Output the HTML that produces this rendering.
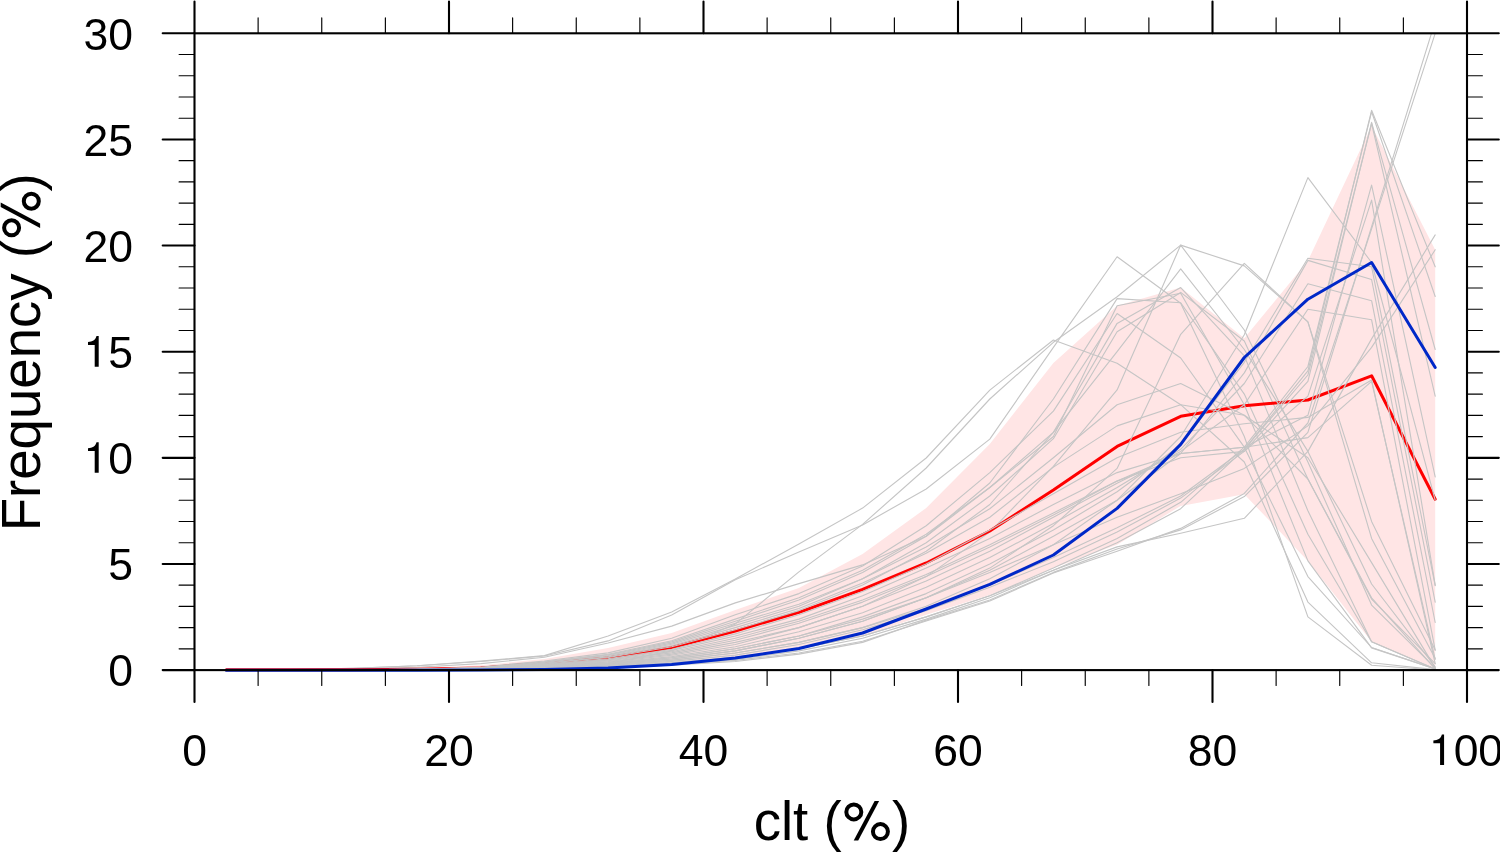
<!DOCTYPE html><html><head><meta charset="utf-8"><style>html,body{margin:0;padding:0;background:#fff;overflow:hidden}svg{display:block}text{font-family:"Liberation Sans",sans-serif;fill:#000}</style></head><body>
<svg width="1500" height="852" viewBox="0 0 1500 852">
<rect width="1500" height="852" fill="#fff"/>
<defs><clipPath id="c"><rect x="194.5" y="33.3" width="1272.5" height="640.8"/></clipPath></defs>
<g clip-path="url(#c)" fill="none" stroke-linejoin="round" stroke-linecap="round">
<polygon points="226.3,670.0 289.9,670.0 353.6,669.6 417.2,668.3 480.8,665.3 544.4,659.0 608.1,647.9 671.7,633.1 735.3,609.9 798.9,588.1 862.6,553.9 926.2,508.1 989.8,444.0 1053.4,362.9 1117.1,305.8 1180.7,287.6 1244.3,338.3 1307.9,260.8 1371.6,125.8 1435.2,249.8 1435.2,668.5 1371.6,641.8 1307.9,560.9 1244.3,494.3 1180.7,505.9 1117.1,544.8 1053.4,568.1 989.8,595.1 926.2,614.8 862.6,636.0 798.9,648.8 735.3,657.3 671.7,663.6 608.1,667.9 544.4,669.4 480.8,670.0 417.2,670.0 353.6,670.0 289.9,670.0 226.3,670.0" fill="#ffe5e5" stroke="none"/>
<g stroke="#c5c5c5" stroke-width="1.12">
<path d="M226.3,669.9 L289.9,669.6 L353.6,668.3 L417.2,665.8 L480.8,661.1 L544.4,655.6 L608.1,636.0 L671.7,612.1 L735.3,579.0 L798.9,543.9 L862.6,508.1 L926.2,458.0 L989.8,390.1 L1053.4,340.0 L1117.1,363.3 L1180.7,404.7 L1244.3,462.0 L1307.9,602.1 L1371.6,662.8 L1435.2,669.6"/>
<path d="M226.3,669.9 L289.9,669.6 L353.6,668.3 L417.2,665.8 L480.8,661.5 L544.4,656.0 L608.1,640.9 L671.7,615.0 L735.3,579.8 L798.9,552.0 L862.6,525.0 L926.2,489.0 L989.8,439.1 L1053.4,347.4 L1117.1,256.8 L1180.7,303.3 L1244.3,436.5 L1307.9,616.9 L1371.6,665.3 L1435.2,670.0"/>
<path d="M226.3,669.9 L289.9,669.9 L353.6,669.9 L417.2,669.8 L480.8,669.4 L544.4,667.9 L608.1,663.6 L671.7,650.9 L735.3,623.9 L798.9,571.9 L862.6,524.4 L926.2,468.0 L989.8,399.0 L1053.4,342.3 L1117.1,296.7 L1180.7,245.1 L1244.3,265.9 L1307.9,321.9 L1371.6,521.4 L1435.2,650.1"/>
<path d="M226.3,669.9 L289.9,669.8 L353.6,668.9 L417.2,667.2 L480.8,663.6 L544.4,657.3 L608.1,643.0 L671.7,626.1 L735.3,602.9 L798.9,583.6 L862.6,564.9 L926.2,536.3 L989.8,483.0 L1053.4,399.0 L1117.1,298.6 L1180.7,302.8 L1244.3,394.1 L1307.9,534.2 L1371.6,641.8 L1435.2,668.9"/>
<path d="M226.3,669.9 L289.9,669.9 L353.6,669.7 L417.2,669.1 L480.8,667.0 L544.4,661.0 L608.1,652.9 L671.7,638.2 L735.3,614.8 L798.9,593.6 L862.6,566.0 L926.2,525.7 L989.8,472.6 L1053.4,411.1 L1117.1,313.5 L1180.7,358.0 L1244.3,447.2 L1307.9,576.6 L1371.6,647.5 L1435.2,668.9"/>
<path d="M226.3,669.9 L289.9,669.9 L353.6,669.7 L417.2,669.2 L480.8,667.3 L544.4,662.0 L608.1,654.9 L671.7,641.9 L735.3,621.2 L798.9,600.0 L862.6,572.4 L926.2,536.3 L989.8,487.5 L1053.4,432.3 L1117.1,323.4 L1180.7,287.6 L1244.3,355.9 L1307.9,510.8 L1371.6,641.8 L1435.2,668.9"/>
<path d="M226.3,669.9 L289.9,669.9 L353.6,669.8 L417.2,669.3 L480.8,667.6 L544.4,662.7 L608.1,656.2 L671.7,644.3 L735.3,625.4 L798.9,606.3 L862.6,578.7 L926.2,542.7 L989.8,496.0 L1053.4,438.7 L1117.1,331.7 L1180.7,292.4 L1244.3,341.0 L1307.9,479.0 L1371.6,599.1 L1435.2,663.6"/>
<path d="M226.3,669.9 L289.9,669.9 L353.6,669.9 L417.2,669.6 L480.8,668.6 L544.4,665.8 L608.1,662.1 L671.7,655.3 L735.3,644.5 L798.9,627.6 L862.6,606.3 L926.2,576.6 L989.8,532.1 L1053.4,466.3 L1117.1,389.9 L1180.7,245.1 L1244.3,330.0 L1307.9,462.0 L1371.6,605.1 L1435.2,667.9"/>
</g>
<path d="M226.3,669.8 L289.9,669.8 L353.6,669.7 L417.2,669.3 L480.8,667.9 L544.4,663.6 L608.1,657.9 L671.7,647.5 L735.3,631.0 L798.9,612.3 L862.6,589.3 L926.2,563.0 L989.8,531.0 L1053.4,490.0 L1117.1,446.4 L1180.7,416.3 L1244.3,405.8 L1307.9,400.0 L1371.6,375.8 L1435.2,499.2" stroke="#ff0000" stroke-width="3.0"/>
<g stroke="#c5c5c5" stroke-width="1.12">
<path d="M226.3,669.9 L289.9,669.9 L353.6,669.8 L417.2,669.3 L480.8,667.8 L544.4,663.4 L608.1,657.5 L671.7,646.8 L735.3,629.7 L798.9,610.6 L862.6,585.1 L926.2,551.2 L989.8,504.5 L1053.4,432.3 L1117.1,351.7 L1180.7,268.9 L1244.3,349.5 L1307.9,451.4 L1371.6,584.0 L1435.2,666.8"/>
<path d="M226.3,669.9 L289.9,669.9 L353.6,669.7 L417.2,669.2 L480.8,667.2 L544.4,661.7 L608.1,654.2 L671.7,640.7 L735.3,619.1 L798.9,597.8 L862.6,570.3 L926.2,534.2 L989.8,487.5 L1053.4,436.5 L1117.1,305.8 L1180.7,293.3 L1244.3,404.7 L1307.9,560.9 L1371.6,647.9 L1435.2,668.9"/>
<path d="M226.3,669.9 L289.9,669.9 L353.6,669.9 L417.2,669.7 L480.8,669.0 L544.4,666.9 L608.1,664.1 L671.7,659.0 L735.3,650.9 L798.9,638.2 L862.6,621.2 L926.2,597.8 L989.8,568.1 L1053.4,525.7 L1117.1,468.4 L1180.7,334.3 L1244.3,263.4 L1307.9,321.9 L1371.6,538.4 L1435.2,658.5"/>
<path d="M226.3,669.9 L289.9,669.9 L353.6,669.9 L417.2,669.7 L480.8,669.1 L544.4,667.2 L608.1,664.7 L671.7,660.2 L735.3,653.0 L798.9,642.4 L862.6,627.6 L926.2,606.3 L989.8,578.7 L1053.4,544.8 L1117.1,500.2 L1180.7,436.5 L1244.3,334.7 L1307.9,177.6 L1371.6,262.5 L1435.2,500.2"/>
<path d="M226.3,669.9 L289.9,669.9 L353.6,669.9 L417.2,669.7 L480.8,668.8 L544.4,666.5 L608.1,663.4 L671.7,657.8 L735.3,648.8 L798.9,636.0 L862.6,616.9 L926.2,593.6 L989.8,563.9 L1053.4,529.9 L1117.1,491.7 L1180.7,445.0 L1244.3,362.3 L1307.9,258.3 L1371.6,266.8 L1435.2,585.7"/>
<path d="M226.3,669.9 L289.9,669.9 L353.6,669.9 L417.2,669.7 L480.8,669.0 L544.4,666.9 L608.1,664.1 L671.7,659.0 L735.3,650.9 L798.9,638.2 L862.6,621.2 L926.2,597.8 L989.8,570.3 L1053.4,536.3 L1117.1,500.2 L1180.7,453.5 L1244.3,372.9 L1307.9,260.4 L1371.6,279.5 L1435.2,602.1"/>
<path d="M226.3,669.9 L289.9,669.9 L353.6,669.9 L417.2,669.6 L480.8,668.7 L544.4,666.2 L608.1,662.8 L671.7,656.6 L735.3,646.7 L798.9,631.8 L862.6,612.7 L926.2,587.2 L989.8,557.5 L1053.4,523.6 L1117.1,487.5 L1180.7,449.3 L1244.3,383.5 L1307.9,283.7 L1371.6,300.7 L1435.2,622.5"/>
<path d="M226.3,669.9 L289.9,669.9 L353.6,669.9 L417.2,669.6 L480.8,668.5 L544.4,665.5 L608.1,661.5 L671.7,654.1 L735.3,642.4 L798.9,627.6 L862.6,606.3 L926.2,580.9 L989.8,551.2 L1053.4,517.2 L1117.1,483.2 L1180.7,451.4 L1244.3,404.7 L1307.9,309.2 L1371.6,319.8 L1435.2,650.1"/>
<path d="M226.3,669.9 L289.9,669.9 L353.6,669.9 L417.2,669.8 L480.8,669.4 L544.4,668.3 L608.1,666.7 L671.7,663.9 L735.3,659.4 L798.9,650.9 L862.6,638.2 L926.2,619.1 L989.8,597.8 L1053.4,570.3 L1117.1,542.7 L1180.7,508.7 L1244.3,449.3 L1307.9,370.8 L1371.6,110.3 L1435.2,266.8"/>
<path d="M226.3,669.9 L289.9,669.9 L353.6,669.9 L417.2,669.8 L480.8,669.3 L544.4,667.9 L608.1,666.1 L671.7,662.7 L735.3,657.3 L798.9,648.8 L862.6,636.0 L926.2,616.9 L989.8,595.7 L1053.4,568.1 L1117.1,538.4 L1180.7,502.3 L1244.3,447.2 L1307.9,366.5 L1371.6,111.8 L1435.2,296.5"/>
<path d="M226.3,669.9 L289.9,669.9 L353.6,669.9 L417.2,669.8 L480.8,669.2 L544.4,667.6 L608.1,665.4 L671.7,661.4 L735.3,655.1 L798.9,644.5 L862.6,629.7 L926.2,610.6 L989.8,587.2 L1053.4,561.8 L1117.1,532.1 L1180.7,498.1 L1244.3,451.4 L1307.9,381.4 L1371.6,122.4 L1435.2,349.5"/>
<path d="M226.3,669.9 L289.9,669.9 L353.6,669.9 L417.2,669.7 L480.8,669.1 L544.4,667.2 L608.1,664.7 L671.7,660.2 L735.3,653.0 L798.9,642.4 L862.6,627.6 L926.2,608.5 L989.8,585.1 L1053.4,557.5 L1117.1,527.8 L1180.7,496.0 L1244.3,449.3 L1307.9,375.0 L1371.6,123.5 L1435.2,396.2"/>
<path d="M226.3,669.9 L289.9,669.9 L353.6,669.8 L417.2,669.5 L480.8,668.4 L544.4,665.2 L608.1,660.8 L671.7,652.9 L735.3,640.3 L798.9,623.3 L862.6,602.1 L926.2,576.6 L989.8,546.9 L1053.4,515.1 L1117.1,481.1 L1180.7,453.5 L1244.3,447.2 L1307.9,415.3 L1371.6,185.1 L1435.2,476.9"/>
<path d="M226.3,669.9 L289.9,669.9 L353.6,669.8 L417.2,669.5 L480.8,668.3 L544.4,664.8 L608.1,660.1 L671.7,651.7 L735.3,638.2 L798.9,621.2 L862.6,600.0 L926.2,574.5 L989.8,544.8 L1053.4,512.9 L1117.1,481.1 L1180.7,457.8 L1244.3,451.4 L1307.9,396.2 L1371.6,200.1 L1435.2,585.1"/>
<path d="M226.3,669.9 L289.9,669.9 L353.6,669.9 L417.2,669.8 L480.8,669.5 L544.4,668.4 L608.1,667.0 L671.7,664.5 L735.3,660.4 L798.9,653.0 L862.6,641.3 L926.2,621.0 L989.8,601.0 L1053.4,573.0 L1117.1,551.2 L1180.7,528.4 L1244.3,493.4 L1307.9,423.0 L1371.6,228.8 L1435.2,33.3"/>
<path d="M226.3,669.9 L289.9,669.9 L353.6,669.9 L417.2,669.9 L480.8,669.5 L544.4,668.6 L608.1,667.4 L671.7,665.1 L735.3,661.5 L798.9,654.1 L862.6,642.4 L926.2,620.1 L989.8,600.0 L1053.4,572.4 L1117.1,549.0 L1180.7,529.9 L1244.3,496.6 L1307.9,432.3 L1371.6,226.7 L1435.2,21.2"/>
<path d="M226.3,669.9 L289.9,669.9 L353.6,669.9 L417.2,669.8 L480.8,669.3 L544.4,667.9 L608.1,666.1 L671.7,662.7 L735.3,657.3 L798.9,648.8 L862.6,636.0 L926.2,616.9 L989.8,595.7 L1053.4,570.3 L1117.1,546.9 L1180.7,533.3 L1244.3,518.3 L1307.9,451.4 L1371.6,338.9 L1435.2,234.9"/>
<path d="M226.3,669.9 L289.9,669.9 L353.6,669.9 L417.2,669.7 L480.8,668.8 L544.4,666.5 L608.1,663.4 L671.7,657.8 L735.3,648.8 L798.9,636.0 L862.6,619.1 L926.2,597.8 L989.8,572.4 L1053.4,544.8 L1117.1,517.2 L1180.7,493.8 L1244.3,468.4 L1307.9,425.9 L1371.6,347.4 L1435.2,249.8"/>
<path d="M226.3,669.9 L289.9,669.9 L353.6,669.8 L417.2,669.4 L480.8,668.0 L544.4,664.1 L608.1,658.8 L671.7,649.2 L735.3,633.9 L798.9,614.8 L862.6,591.5 L926.2,563.9 L989.8,529.9 L1053.4,493.8 L1117.1,457.8 L1180.7,432.3 L1244.3,423.8 L1307.9,417.4 L1371.6,380.1 L1435.2,663.6"/>
<path d="M226.3,669.9 L289.9,669.9 L353.6,669.8 L417.2,669.3 L480.8,667.7 L544.4,663.1 L608.1,656.9 L671.7,645.5 L735.3,627.6 L798.9,608.5 L862.6,583.0 L926.2,553.3 L989.8,517.2 L1053.4,467.1 L1117.1,425.9 L1180.7,404.7 L1244.3,415.3 L1307.9,457.8 L1371.6,562.6 L1435.2,667.9"/>
<path d="M226.3,669.9 L289.9,669.9 L353.6,669.8 L417.2,669.4 L480.8,668.2 L544.4,664.5 L608.1,659.5 L671.7,650.4 L735.3,636.0 L798.9,619.1 L862.6,595.7 L926.2,568.1 L989.8,538.4 L1053.4,504.5 L1117.1,472.6 L1180.7,453.5 L1244.3,447.2 L1307.9,437.6 L1371.6,381.4 L1435.2,659.4"/>
<path d="M226.3,669.9 L289.9,669.9 L353.6,669.7 L417.2,669.2 L480.8,667.5 L544.4,662.4 L608.1,655.5 L671.7,643.1 L735.3,623.3 L798.9,604.2 L862.6,578.7 L926.2,546.9 L989.8,508.7 L1053.4,457.8 L1117.1,404.7 L1180.7,383.5 L1244.3,415.3 L1307.9,479.0 L1371.6,597.8 L1435.2,668.9"/>
</g>
<path d="M226.3,670.3 L289.9,670.3 L353.6,670.3 L417.2,670.2 L480.8,670.0 L544.4,669.4 L608.1,668.1 L671.7,664.5 L735.3,658.0 L798.9,648.5 L862.6,633.0 L926.2,609.0 L989.8,584.4 L1053.4,555.0 L1117.1,508.4 L1180.7,444.4 L1244.3,357.5 L1307.9,299.2 L1371.6,262.5 L1435.2,367.5" stroke="#0028c8" stroke-width="3.0"/>
</g>
<g stroke="#000" fill="none" stroke-linecap="round">
<rect x="194.50" y="33.30" width="1272.50" height="636.80" stroke-width="2.1"/>
<path d="M194.50,670.10 v31.80 M194.50,33.30 v-31.80 M449.00,670.10 v31.80 M449.00,33.30 v-31.80 M703.50,670.10 v31.80 M703.50,33.30 v-31.80 M958.00,670.10 v31.80 M958.00,33.30 v-31.80 M1212.50,670.10 v31.80 M1212.50,33.30 v-31.80 M1467.00,670.10 v31.80 M1467.00,33.30 v-31.80 M194.50,670.10 h-31.80 M1467.00,670.10 h31.80 M194.50,563.97 h-31.80 M1467.00,563.97 h31.80 M194.50,457.83 h-31.80 M1467.00,457.83 h31.80 M194.50,351.70 h-31.80 M1467.00,351.70 h31.80 M194.50,245.57 h-31.80 M1467.00,245.57 h31.80 M194.50,139.43 h-31.80 M1467.00,139.43 h31.80 M194.50,33.30 h-31.80 M1467.00,33.30 h31.80" stroke-width="2.1"/>
<path d="M258.12,670.10 v15.40 M258.12,33.30 v-15.40 M321.75,670.10 v15.40 M321.75,33.30 v-15.40 M385.38,670.10 v15.40 M385.38,33.30 v-15.40 M512.62,670.10 v15.40 M512.62,33.30 v-15.40 M576.25,670.10 v15.40 M576.25,33.30 v-15.40 M639.88,670.10 v15.40 M639.88,33.30 v-15.40 M767.12,670.10 v15.40 M767.12,33.30 v-15.40 M830.75,670.10 v15.40 M830.75,33.30 v-15.40 M894.38,670.10 v15.40 M894.38,33.30 v-15.40 M1021.62,670.10 v15.40 M1021.62,33.30 v-15.40 M1085.25,670.10 v15.40 M1085.25,33.30 v-15.40 M1148.88,670.10 v15.40 M1148.88,33.30 v-15.40 M1276.12,670.10 v15.40 M1276.12,33.30 v-15.40 M1339.75,670.10 v15.40 M1339.75,33.30 v-15.40 M1403.38,670.10 v15.40 M1403.38,33.30 v-15.40 M194.50,648.87 h-15.40 M1467.00,648.87 h15.40 M194.50,627.65 h-15.40 M1467.00,627.65 h15.40 M194.50,606.42 h-15.40 M1467.00,606.42 h15.40 M194.50,585.19 h-15.40 M1467.00,585.19 h15.40 M194.50,542.74 h-15.40 M1467.00,542.74 h15.40 M194.50,521.51 h-15.40 M1467.00,521.51 h15.40 M194.50,500.29 h-15.40 M1467.00,500.29 h15.40 M194.50,479.06 h-15.40 M1467.00,479.06 h15.40 M194.50,436.61 h-15.40 M1467.00,436.61 h15.40 M194.50,415.38 h-15.40 M1467.00,415.38 h15.40 M194.50,394.15 h-15.40 M1467.00,394.15 h15.40 M194.50,372.93 h-15.40 M1467.00,372.93 h15.40 M194.50,330.47 h-15.40 M1467.00,330.47 h15.40 M194.50,309.25 h-15.40 M1467.00,309.25 h15.40 M194.50,288.02 h-15.40 M1467.00,288.02 h15.40 M194.50,266.79 h-15.40 M1467.00,266.79 h15.40 M194.50,224.34 h-15.40 M1467.00,224.34 h15.40 M194.50,203.11 h-15.40 M1467.00,203.11 h15.40 M194.50,181.89 h-15.40 M1467.00,181.89 h15.40 M194.50,160.66 h-15.40 M1467.00,160.66 h15.40 M194.50,118.21 h-15.40 M1467.00,118.21 h15.40 M194.50,96.98 h-15.40 M1467.00,96.98 h15.40 M194.50,75.75 h-15.40 M1467.00,75.75 h15.40 M194.50,54.53 h-15.40 M1467.00,54.53 h15.40" stroke-width="1.15"/>
</g>
<g font-size="44.5" transform="translate(0.001,0)" style="will-change:transform">
<text x="182.13" y="766.30">0</text>
<text x="424.25" y="766.30">20</text>
<text x="678.75" y="766.30">40</text>
<text x="933.25" y="766.30">60</text>
<text x="1187.75" y="766.30">80</text>
<path fill="#000" d="M1440.08,765.10 v-21.8 h-6.7 v-2.9 c4.5,-0.2 7.3,-1.8 8.5,-6.0 h2.2 v30.7 z"/>
<text x="1453.63" y="766.30">00</text>
<text x="108.25" y="686.30">0</text>
<text x="108.25" y="580.17">5</text>
<path fill="#000" d="M94.70,472.83 v-21.8 h-6.7 v-2.9 c4.5,-0.2 7.3,-1.8 8.5,-6.0 h2.2 v30.7 z"/>
<text x="108.25" y="474.03">0</text>
<path fill="#000" d="M94.70,366.70 v-21.8 h-6.7 v-2.9 c4.5,-0.2 7.3,-1.8 8.5,-6.0 h2.2 v30.7 z"/>
<text x="108.25" y="367.90">5</text>
<text x="83.50" y="261.77">20</text>
<text x="83.50" y="155.63">25</text>
<text x="83.50" y="49.50">30</text>
</g>
<g transform="translate(831.00,839.80)" font-size="54.6"><text x="10.62" y="0" text-anchor="end">clt (</text><g fill="none" stroke="#000"><circle cx="22.82" cy="-27.9" r="7.5" stroke-width="4.0"/><circle cx="49.42" cy="-8.2" r="7.5" stroke-width="4.0"/></g><polygon fill="#000" points="43.62,-38.8 48.12,-38.8 27.22,0.6 22.72,0.6"/><text x="60.96" y="0">)</text></g>
<g transform="translate(39.50,352.30) rotate(-90)" font-size="54.6"><text x="112.28" y="0" text-anchor="end">Frequency (</text><g fill="none" stroke="#000"><circle cx="124.48" cy="-27.9" r="7.5" stroke-width="4.0"/><circle cx="151.08" cy="-8.2" r="7.5" stroke-width="4.0"/></g><polygon fill="#000" points="145.28,-38.8 149.78,-38.8 128.88,0.6 124.38,0.6"/><text x="160.82" y="0">)</text></g>
</svg></body></html>
